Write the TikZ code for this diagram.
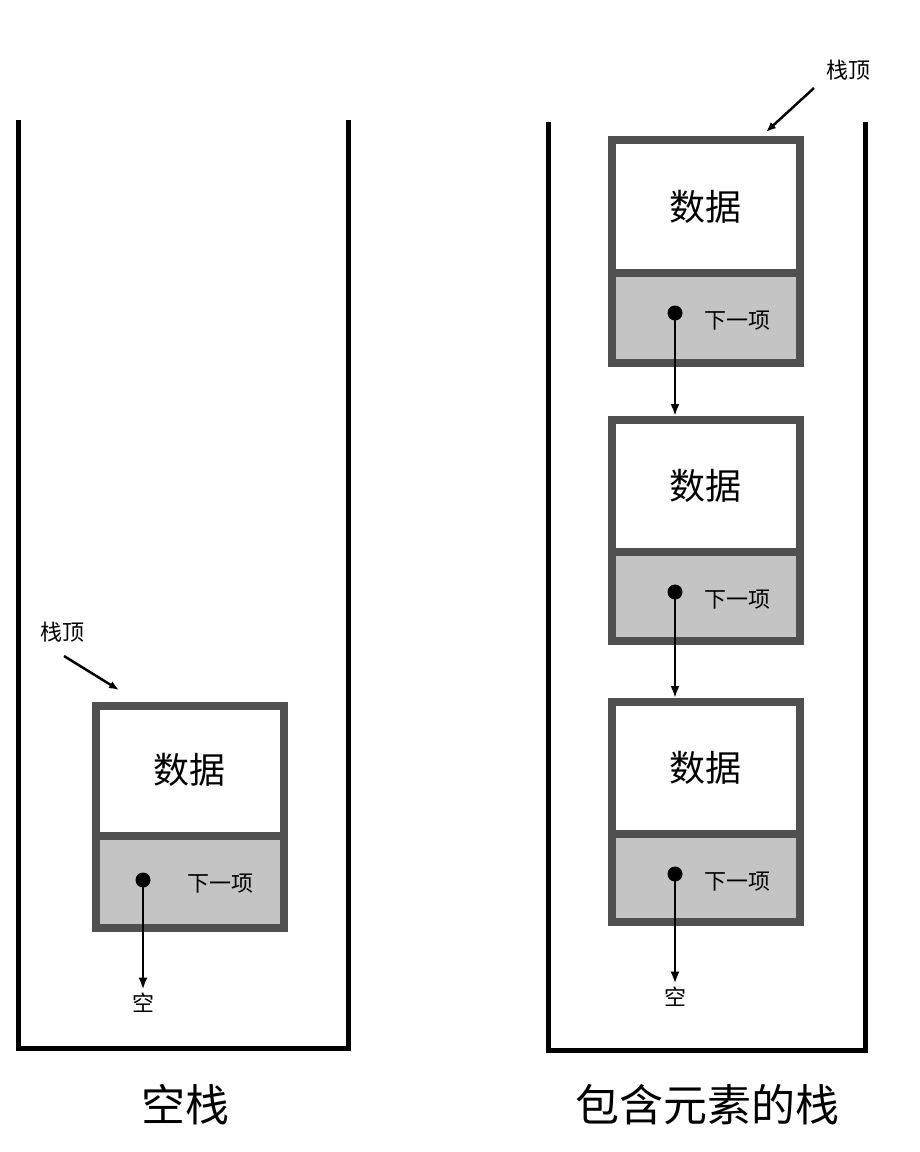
\documentclass[tikz,border=0pt]{standalone}
\usepackage{fontspec}
\setmainfont{Noto Sans CJK SC}
\usetikzlibrary{arrows.meta}
\definecolor{bd}{HTML}{505050}
\definecolor{gr}{HTML}{C4C4C4}
\tikzset{
 wall/.style={line width=5pt,black},
 frame/.style={line width=8pt,draw=bd},
 lab/.style={font=\fontsize{36}{36}\selectfont},
 small/.style={font=\fontsize{22}{22}\selectfont},
 ptr/.style={line width=2.5pt,-{Latex[length=12pt,width=9pt]}},
 topptr/.style={line width=2.5pt,-{Latex[length=10pt,width=8pt]}},
 dotn/.style={circle,fill=black,inner sep=0pt,minimum size=15pt},
 title/.style={font=\fontsize{44}{44}\selectfont}
}
\begin{document}
\begin{tikzpicture}[x=1pt,y=-1pt]
\useasboundingbox (0,0) rectangle (920,1152);
% containers
\draw[wall] (18,120) -- (18,1048) -- (348,1048) -- (348,120);
\draw[wall] (548,122) -- (548,1050) -- (865,1050) -- (865,122);
% left cell
\fill[gr] (96,836) rectangle (284,928);
\fill[white] (96,706) rectangle (284,836);
\draw[frame] (96,706) rectangle (284,928);
\draw[frame] (96,836) -- (284,836);
\node[lab] (d0) at (189,770) {数据};
\node[small] (n0) at (220,884) {下一项};
\node[dotn] (p0) at (143,880) {};
\node[small] (e0) at (143,1003) {空};
\draw[ptr] (p0.center) -- (e0.north);
% right cells
\foreach \t/\dv/\b/\nm in {140/273/363/1, 420/552/641/2, 702/834/922/3}{
 \fill[gr] (612,\dv) rectangle (800,\b);
 \fill[white] (612,\t) rectangle (800,\dv);
 \draw[frame] (612,\t) rectangle (800,\b);
 \draw[frame] (612,\dv) -- (800,\dv);
 \node[lab] (d\nm) at (705,{(\t+\dv)/2}) {数据};
 \node[small] (n\nm) at (737,{\dv+48}) {下一项};
 \node[dotn] (p\nm) at (675,{\dv+40}) {};
}
\coordinate (c2) at (675,416);
\coordinate (c3) at (675,698);
\node[small] (e1) at (675,997) {空};
\draw[ptr] (p1.center) -- (c2);
\draw[ptr] (p2.center) -- (c3);
\draw[ptr] (p3.center) -- (e1.north);
% top labels
\node[small] (t0) at (62,632) {栈顶};
\coordinate (a0) at (119,690);
\coordinate (s0) at (64,656);
\draw[topptr] (s0) -- (a0);
\node[small] (t1) at (848,70) {栈顶};
\coordinate (a1) at (766,132);
\coordinate (s1) at (814,88);
\draw[topptr] (s1) -- (a1);
% titles
\node[title] (T0) at (185,1105) {空栈};
\node[title] (T1) at (707,1105) {包含元素的栈};
\end{tikzpicture}
\end{document}
